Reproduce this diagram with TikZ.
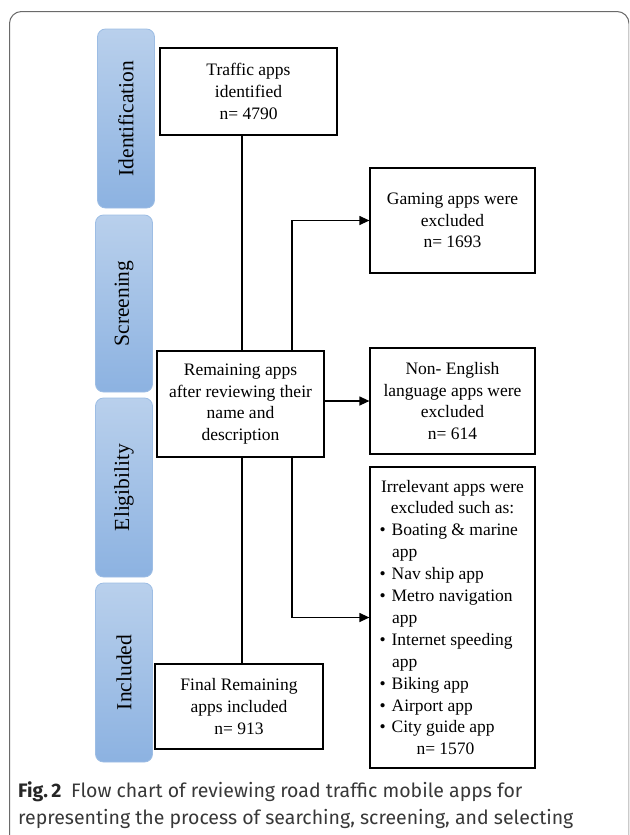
\documentclass[tikz,border=0pt]{standalone}
\usepackage{fontspec}
\setmainfont{Liberation Serif}
\setsansfont{Fira Sans}
\usetikzlibrary{arrows.meta, positioning}
\definecolor{stagetop}{HTML}{B9D0EC}
\definecolor{stagebot}{HTML}{8CB2E1}
\definecolor{stageline}{HTML}{9DBDE4}
\definecolor{framegray}{HTML}{6A6A6A}
\definecolor{captext}{HTML}{383838}
\newcommand{\bulletline}[1]{\makebox[146pt][l]{\textbullet\hspace{6pt}#1}}
\newcommand{\wrapline}[1]{\makebox[146pt][l]{\hspace{12.5pt}#1}}

\begin{document}
\begin{tikzpicture}[x=1pt, y=-1pt,
    stage/.style={rounded corners=8pt, draw=stageline, line width=0.8pt,
      top color=stagetop, bottom color=stagebot, minimum width=57pt,
      inner sep=0pt, font=\fontsize{21.5}{24}\selectfont},
    box/.style={draw, line width=1.2pt, align=center, inner sep=0pt,
      font=\fontsize{17.5}{21.7}\selectfont},
    arr/.style={line width=1.2pt, -{Triangle[length=10pt, width=9pt]}},
    link/.style={line width=1.2pt}]

  \useasboundingbox (0,0) rectangle (629,835);
  \clip (0,0) rectangle (629,835);

  % Rahmen
  \draw[framegray, line width=1pt, rounded corners=12pt] (9.5,11.5) rectangle (629,900);

  % Phasen
  \node[stage, minimum height=179pt] (ident) at (126,118.5) {\rotatebox{90}{Identification}};
  \node[stage, minimum height=177pt] (screen) at (124,303.5) {\rotatebox{90}{Screening}};
  \node[stage, minimum height=179pt] (elig) at (124,487.5) {\rotatebox{90}{Eligibility}};
  \node[stage, minimum height=179pt] (incl) at (124,672.5) {\rotatebox{90}{Included}};

  % Kaesten
  \node[box, minimum width=177pt, minimum height=87pt] (traffic) at (248.5,91.5)
    {Traffic apps\\identified\\n= 4790};
  \node[box, minimum width=167pt, minimum height=106pt] (rem) at (240.5,404)
    {Remaining apps\\after reviewing their\\name and\\description};
  \node[box, minimum width=168pt, minimum height=85pt] (final) at (239,706.5)
    {Final Remaining\\apps included\\n= 913};
  \node[box, minimum width=165pt, minimum height=105pt] (gaming) at (452.5,220.5)
    {Gaming apps were\\excluded\\n= 1693};
  \node[box, minimum width=165pt, minimum height=106pt] (nonen) at (452.5,401)
    {Non- English\\language apps were\\excluded\\n= 614};
  \node[box, minimum width=165pt, minimum height=301pt,
        font=\fontsize{17.5}{21.9}\selectfont] (irr) at (452.5,617.5)
    {Irrelevant apps were\\excluded such as:\\
     \bulletline{Boating \& marine}\\\wrapline{app}\\
     \bulletline{Nav ship app}\\
     \bulletline{Metro navigation}\\\wrapline{app}\\
     \bulletline{Internet speeding}\\\wrapline{app}\\
     \bulletline{Biking app}\\
     \bulletline{Airport app}\\
     \bulletline{City guide app}\\
     \makebox[146pt][l]{\hspace{37pt}n= 1570}};

  % Verbindungen
  \coordinate (trunk) at (242,0);
  \coordinate (branch) at (292,0);
  \draw[link] (traffic.south -| trunk) -- (rem.north -| trunk);
  \draw[link] (rem.south -| trunk) -- (final.north -| trunk);
  \draw[arr] (rem.north -| branch) |- (gaming.west);
  \draw[arr] (rem.east |- nonen.west) -- (nonen.west);
  \draw[arr] (rem.south -| branch) |- (irr.west);

  % Bildunterschrift
  \node[anchor=base west, inner sep=0pt, text=captext, font=\sffamily\fontsize{19.5}{27}\selectfont]
    (cap1) at (18,797) {{\bfseries\color{black!85}Fig.\,2}\hspace{0.5em}Flow chart of reviewing road traffic mobile apps for};
  \node[anchor=base west, inner sep=0pt, text=captext, font=\sffamily\fontsize{19.5}{27}\selectfont]
    (cap2) at (18,824) {representing the process of searching, screening, and selecting};
\end{tikzpicture}
\end{document}
